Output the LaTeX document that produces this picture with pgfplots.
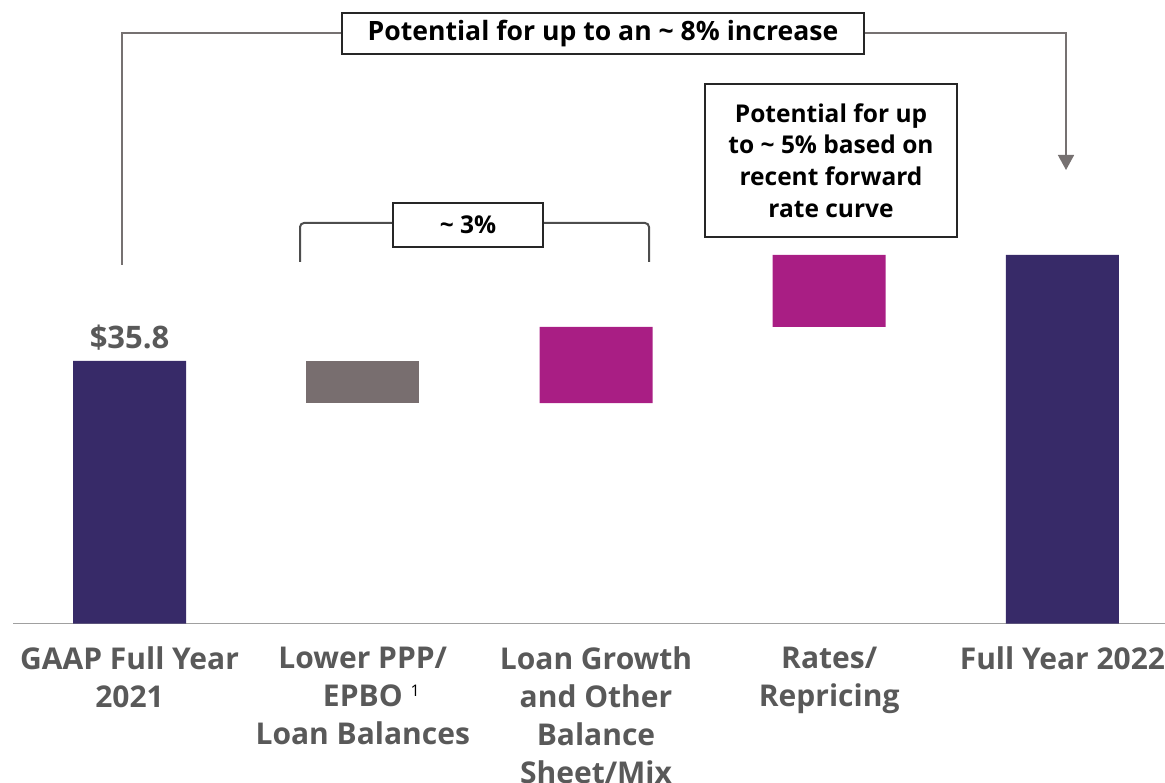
\documentclass[border=0pt]{standalone}
\usepackage{pgfplots}
\pgfplotsset{compat=1.18}
\usepackage{pgfplotstable}
\usepackage{fontspec}
\setmainfont{Open Sans}
\usetikzlibrary{arrows.meta}

\definecolor{navy}{HTML}{372A68}
\definecolor{greybar}{HTML}{786E6F}
\definecolor{mag}{HTML}{A91E84}
\definecolor{axisgray}{HTML}{A0A0A0}
\definecolor{labelgray}{HTML}{595959}
\definecolor{linec}{HTML}{767171}
\definecolor{darkc}{HTML}{4D4D4D}
\definecolor{boxc}{HTML}{262626}

\pgfplotstableread{
x base navy gray mag
0 0     35.8  0    0
1 30.07 0     5.73 0
2 30.07 0     0    10.37
3 40.44 0     0    9.82
4 0     50.26 0    0
}\wf

\begin{document}
\begin{tikzpicture}
\useasboundingbox (0,0) rectangle (582.5pt,391pt);
\begin{axis}[
  at={(6.5pt,79.25pt)}, anchor=south west,
  scale only axis, width=576pt, height=311.75pt,
  xmin=-0.5, xmax=4.44, ymin=0, ymax=85.03,
  ybar stacked, bar width=56.5pt,
  axis x line*=bottom, axis y line=none,
  x axis line style={draw=axisgray, line width=0.75pt, -},
  xtick={0,1,2,3,4},
  xticklabels={
    {GAAP Full Year\\2021},
    {Lower PPP/\\EPBO\rlap{\hspace{4pt}\raisebox{5pt}{\fontsize{8}{9}\selectfont\mdseries\color{black}1}}\\Loan Balances},
    {Loan Growth\\and Other\\Balance\\Sheet/Mix},
    {Rates/\\Repricing},
    {Full Year 2022}},
  major tick length=0pt,
  xticklabel style={align=center, anchor=north, inner sep=0pt, yshift=-11.5pt,
    font=\fontsize{15}{19}\selectfont\bfseries, text=labelgray},
  clip=false,
]
\addplot[draw=none, fill=none] table[x=x, y=base]{\wf};
\addplot[draw=none, fill=navy] table[x=x, y=navy]{\wf};
\addplot[draw=none, fill=greybar] table[x=x, y=gray]{\wf};
\addplot[draw=none, fill=mag] table[x=x, y=mag]{\wf};
\node[anchor=base, font=\fontsize{15.5}{17}\selectfont\bfseries, text=labelgray, inner sep=0pt]
  at (axis cs:0,35.8) [yshift=6pt] {\$35.8};
\end{axis}

\begin{scope}[x=0.5pt, y=-0.5pt, yshift=391pt]
  % big bracket
  \draw[linec, line width=0.75pt] (122,265) -- (122,33) -- (342,33);
  \draw[linec, line width=0.75pt, -{Triangle[width=8pt,length=7.5pt]}] (864,33) -- (1066,33) -- (1066,170);
  \node[draw=boxc, line width=0.75pt, minimum width=261pt, minimum height=20.5pt, inner sep=0pt,
        font=\fontsize{13.3}{16}\selectfont\bfseries, text=black] at (603,33.5)
        {Potential for up to an \textasciitilde\ 8\% increase};
  % small bracket
  \draw[darkc, line width=1pt, rounded corners=2pt] (300,262) -- (300,223) -- (393,223);
  \draw[darkc, line width=1pt, rounded corners=2pt] (543,223) -- (649,223) -- (649,262);
  \node[draw=boxc, line width=0.75pt, minimum width=75pt, minimum height=22pt, inner sep=0pt,
        font=\fontsize{12.25}{15}\selectfont\bfseries, text=black] at (468,225)
        {\textasciitilde\ 3\%};
  % 5% box
  \draw[boxc, line width=0.75pt] (705,84) rectangle (957,237);
  \node[align=center, inner sep=0pt, font=\fontsize{12.25}{15.9}\selectfont\bfseries, text=black]
        at (831,160.5) {Potential for up\\to \textasciitilde\ 5\% based on\\recent forward\\rate curve};
\end{scope}
\end{tikzpicture}
\end{document}
